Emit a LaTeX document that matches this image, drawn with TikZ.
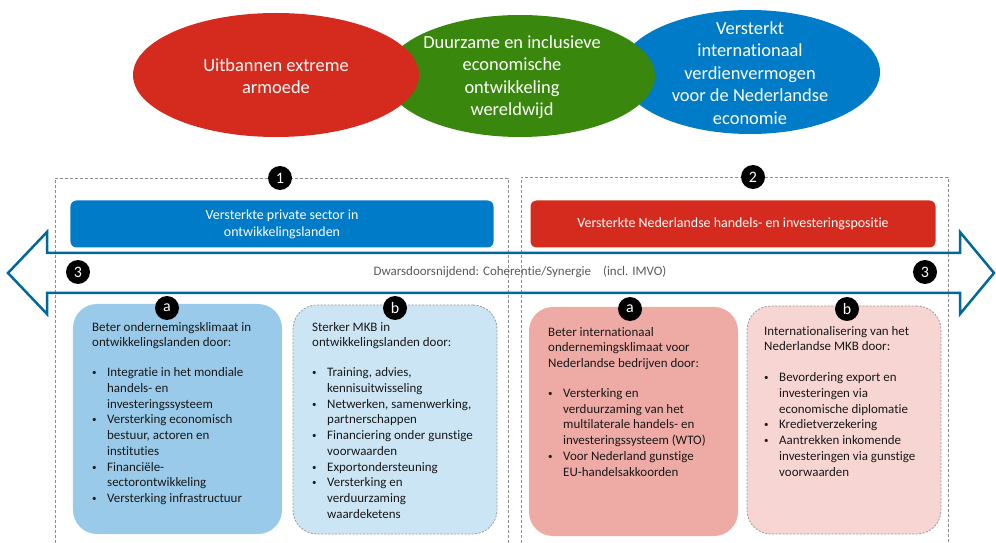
\documentclass[tikz,border=0pt]{standalone}
\usepackage{fontspec}
\setmainfont{Carlito}[Ligatures=NoCommon]
\definecolor{rorood}{RGB}{213,43,30}
\definecolor{rogroen}{RGB}{57,135,12}
\definecolor{roblauw}{RGB}{0,123,199}
\definecolor{rodonker}{RGB}{1,104,155}
\newcommand{\blt}{\makebox[15bp][l]{\raisebox{1bp}{\fontsize{9}{9}\selectfont\textbullet}}}
\newcommand{\bltgap}{\hspace*{15bp}}
\begin{document}
\begin{tikzpicture}[x=1bp, y=-1bp,
    doeltekst/.style={text=white, align=center, inner sep=0pt, font=\fontsize{18.5}{22.5}\selectfont},
    pijler/.style={rounded corners=6bp, text=white, align=center, minimum height=47bp, font=\fontsize{14}{17}\selectfont},
    nummer/.style={circle, fill=black, text=white, minimum size=24bp, inner sep=0pt, font=\fontsize{16}{16}\selectfont},
    kader/.style={draw=black!45, line width=0.8bp, dash pattern=on 3bp off 2bp},
    blok/.style={rounded corners=24bp, line width=0.8bp},
    bloktekst/.style={anchor=north west, inner sep=0pt, align=left, text=black!90, font=\fontsize{13}{15.8}\selectfont}]
    \useasboundingbox (0,0) rectangle (996,543);
    % doelen
    \fill[roblauw] (750,72) ellipse [x radius=130, y radius=62];
    \fill[rogroen] (520,76) ellipse [x radius=135, y radius=61];
    \fill[rorood] (276,75) ellipse [x radius=143, y radius=62];
    \node[doeltekst] (armoede) at (276,76) {Uitbannen extreme\\armoede};
    \node[doeltekst] (duurzaam) at (512,77) {Duurzame en inclusieve\\economische\\ontwikkeling\\wereldwijd};
    \node[doeltekst] (verdienvermogen) at (750,73) {Versterkt\\internationaal\\verdienvermogen\\voor de Nederlandse\\economie};
    % pijlers
    \draw[kader] (55,543) -- (55,178) -- (508,178) -- (508,543);
    \draw[kader] (521,543) -- (521,177) -- (948,177) -- (948,543);
    \node[pijler, fill=roblauw, minimum width=423bp] (privaat) at (282,224) {Versterkte private sector in\\ontwikkelingslanden};
    \node[pijler, fill=rorood, minimum width=405bp] (handel) at (733,224) {Versterkte Nederlandse handels- en investeringspositie};
    % dwarsdoorsnijdend
    \draw[rodonker, line width=2.5bp, line join=miter] (47,253) -- (960,253) -- (960,232) -- (994,273) -- (960,314) -- (960,293)
        -- (47,293) -- (47,314) -- (8,273) -- (47,232) -- cycle;
    \node[text=black!65, font=\fontsize{13}{15}\selectfont] (dwars) at (520,272) {Dwarsdoorsnijdend: Coherentie/Synergie\hspace{12bp}(incl. IMVO)};
    % blokken
    \node[blok, fill=roblauw!40, minimum width=209bp, minimum height=230bp] (klimaat) at (177.5,419) {};
    \node[blok, fill=roblauw!20, draw=black!40, dash pattern=on 2bp off 1.5bp, minimum width=204bp, minimum height=229bp] (mkb) at (395,419.5) {};
    \node[blok, fill=rorood!40, minimum width=209bp, minimum height=229bp] (intklimaat) at (633.5,421.5) {};
    \node[blok, fill=rorood!20, draw=black!40, dash pattern=on 2bp off 1.5bp, minimum width=194bp, minimum height=228bp] (intmkb) at (844,420) {};
    \node[bloktekst] (klimaat-tekst) at (92,322) {Beter ondernemingsklimaat in\\ontwikkelingslanden door:\\[14bp]
        \blt Integratie in het mondiale\\\bltgap handels- en\\\bltgap investeringssysteem\\
        \blt Versterking economisch\\\bltgap bestuur, actoren en\\\bltgap instituties\\
        \blt Financiële-\\\bltgap sectorontwikkeling\\
        \blt Versterking infrastructuur};
    \node[bloktekst] (mkb-tekst) at (312,322) {Sterker MKB in\\ontwikkelingslanden door:\\[14bp]
        \blt Training, advies,\\\bltgap kennisuitwisseling\\
        \blt Netwerken, samenwerking,\\\bltgap partnerschappen\\
        \blt Financiering onder gunstige\\\bltgap voorwaarden\\
        \blt Exportondersteuning\\
        \blt Versterking en\\\bltgap verduurzaming\\\bltgap waardeketens};
    \node[bloktekst] (intklimaat-tekst) at (548,327) {Beter internationaal\\ondernemingsklimaat voor\\Nederlandse bedrijven door:\\[14bp]
        \blt Versterking en\\\bltgap verduurzaming van het\\\bltgap multilaterale handels- en\\\bltgap investeringssysteem (WTO)\\
        \blt Voor Nederland gunstige\\\bltgap EU-handelsakkoorden};
    \node[bloktekst] (intmkb-tekst) at (764,326) {Internationalisering van het\\Nederlandse MKB door:\\[15bp]
        \blt Bevordering export en\\\bltgap investeringen via\\\bltgap economische diplomatie\\
        \blt Kredietverzekering\\
        \blt Aantrekken inkomende\\\bltgap investeringen via gunstige\\\bltgap voorwaarden};
    % nummers
    \node[nummer] (n1) at (280,178) {1};
    \node[nummer] (n2) at (753,177) {2};
    \node[nummer] (n3links) at (78,272) {3};
    \node[nummer] (n3rechts) at (925,272) {3};
    \node[nummer] (a1) at (167,308) {a};
    \node[nummer] (b1) at (395,308) {b};
    \node[nummer] (a2) at (630,309) {a};
    \node[nummer] (b2) at (847,309) {b};
\end{tikzpicture}
\end{document}
